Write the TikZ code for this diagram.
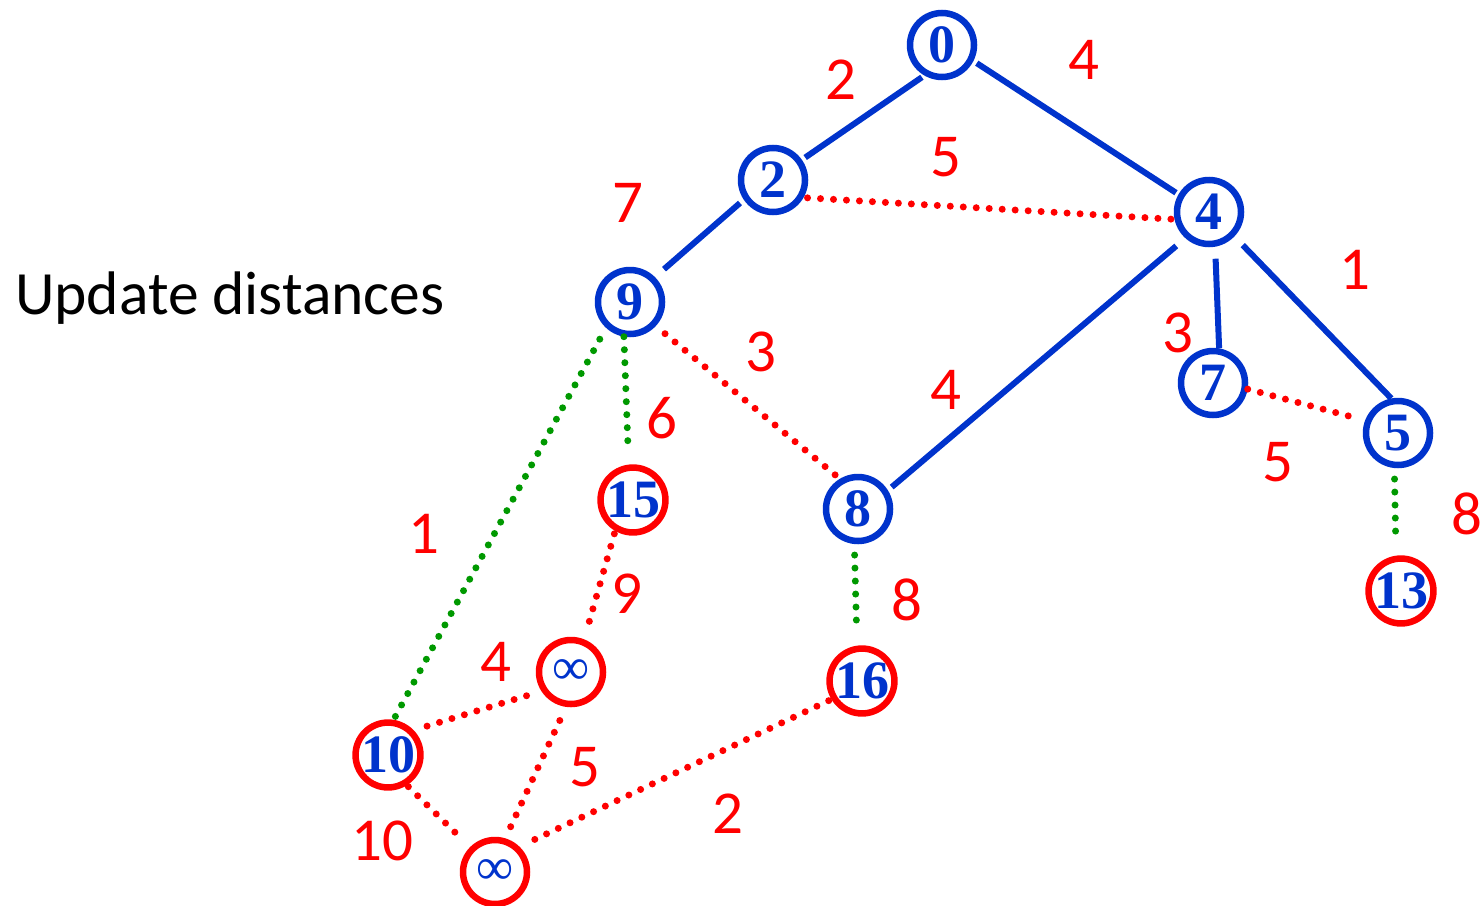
\documentclass[tikz,border=0pt]{standalone}
\usepackage{fontspec}
\setmainfont{Liberation Serif}
\newfontfamily\labelfont{Carlito}
\usepackage{tikz}
\usetikzlibrary{positioning}
\definecolor{treeblue}{RGB}{0,51,204}
\definecolor{edgered}{RGB}{255,0,0}
\definecolor{relaxgreen}{RGB}{0,153,0}

\begin{document}
\begin{tikzpicture}[
    x=1pt, y=-1pt,
    vertex/.style={
        circle,
        draw=treeblue,
        line width=6.5pt,
        minimum size=64pt,
        inner sep=0pt,
        text=treeblue,
        font=\fontsize{54}{54}\selectfont\bfseries
    },
    frontier/.style={
        vertex,
        draw=edgered
    },
    inf/.style={
        font=\fontsize{52}{52}\selectfont
    },
    tree/.style={
        draw=treeblue,
        line width=6pt
    },
    cand/.style={
        draw=edgered,
        line width=7pt,
        line cap=round,
        dash pattern=on 0pt off 13pt
    },
    relax/.style={
        cand,
        draw=relaxgreen
    },
    weight/.style={
        text=edgered,
        inner sep=0pt,
        font=\labelfont\fontsize{61}{61}\selectfont
    }
]
\useasboundingbox (0,0) rectangle (1480,905);

\node[anchor=base west, inner sep=0pt, font=\labelfont\fontsize{61.5}{61.5}\selectfont] (title) at (15,314) {Update distances};

% settled vertices
\node[vertex] (n0) at (942,45) {0};
\node[vertex] (n2) at (773,180) {2};
\node[vertex] (n4) at (1209,212) {4};
\node[vertex] (n9) at (630,302) {9};
\node[vertex] (n7) at (1213,383) {7};
\node[vertex] (n5) at (1398,433) {5};
\node[vertex] (n8) at (858,509) {8};

% frontier vertices
\node[frontier] (n15) at (633,500) {15};
\node[frontier] (n13) at (1401,591) {13};
\node[frontier] (n16) at (862,681) {16};
\node[frontier, inf] (infa) at (571,672) {∞};
\node[frontier] (n10) at (388,755) {10};
\node[frontier, inf] (infb) at (495,872) {∞};

% tree edges
\draw[tree, shorten <=3pt, shorten >=4pt] (n0.240) -- (n2.35);
\draw[tree, shorten <=4pt, shorten >=3pt] (n0.333) -- (n4.150);
\draw[tree, shorten <=5pt, shorten >=12pt] (n2.214) -- (n9.45);
\draw[tree, shorten <=12pt, shorten >=5pt] (n4.228) -- (n8.32);
\draw[tree, shorten <=12pt] (n4.280) -- (n7.80);
\draw[tree, shorten <=12pt] (n4.316) -- (n5.101);

% candidate edges
\draw[cand, shorten <=4pt] (n2.330) -- (n4.192);
\draw[cand, shorten <=12pt, shorten >=3pt] (n9.317) -- (n8.121);
\draw[cand, shorten >=17pt] (n7.350) -- (n5.159);
\draw[cand, shorten <=3pt, shorten >=18pt] (n15.240) -- (infa.68);
\draw[cand, shorten <=14pt, shorten >=3pt] (n10.44) -- (infa.213);
\draw[cand, shorten <=15pt, shorten >=11pt] (infa.262) -- (infb.73);
\draw[cand, shorten <=2pt, shorten >=20pt] (n10.302) -- (infb.135);
\draw[cand, shorten <=3pt, shorten >=12pt] (n16.211) -- (infb.46);

% relaxed edges
\draw[relax, shorten >=12pt] (n9.260) -- (n15.97);
\draw[relax, shorten <=13pt] (n9.227) -- (n10.81);
\draw[relax, shorten <=11pt, shorten >=24pt] (n8.264) -- (n16.98);
\draw[relax, shorten <=11pt, shorten >=24pt] (n5.264) -- (n13.98);

% weights
\node[weight] (w02) at (841,80) {2};
\node[weight] (w04) at (1084,60) {4};
\node[weight] (w24) at (946,157) {5};
\node[weight] (w29) at (628,203) {7};
\node[weight] (w45) at (1355,270) {1};
\node[weight] (w98) at (761,352) {3};
\node[weight] (w47) at (1178,333) {3};
\node[weight] (w48) at (946,390) {4};
\node[weight] (w915) at (662,418) {6};
\node[weight] (w75) at (1278,462) {5};
\node[weight] (w513) at (1467,514) {8};
\node[weight] (w910) at (424,534) {1};
\node[weight] (w15a) at (627,594) {9};
\node[weight] (w816) at (907,600) {8};
\node[weight] (w10a) at (496,662) {4};
\node[weight] (wab) at (585,767) {5};
\node[weight] (w16b) at (728,814) {2};
\node[weight] (w10b) at (382,841) {10};

\end{tikzpicture}
\end{document}
